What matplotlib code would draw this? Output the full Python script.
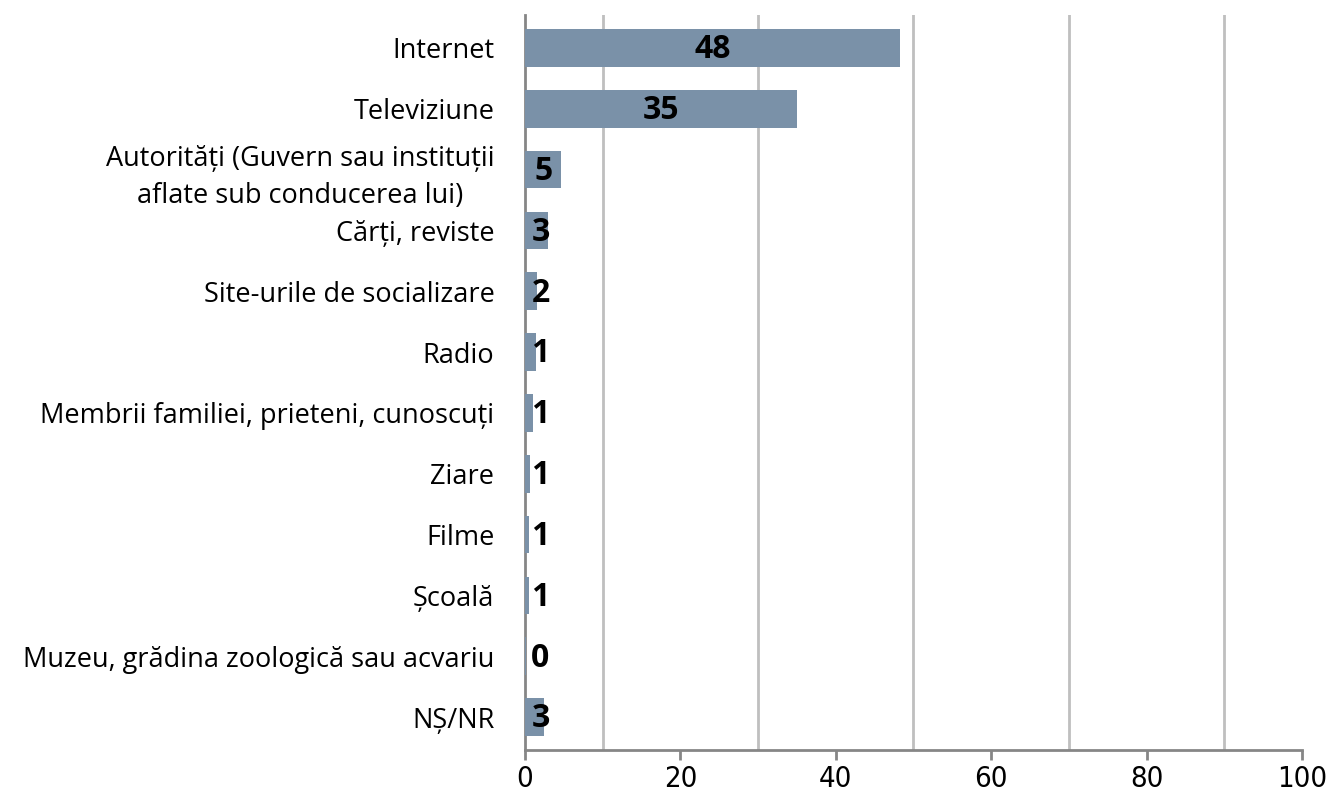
import matplotlib.pyplot as plt
import numpy as np

categories = [
    "Internet",
    "Televiziune",
    "Autorități (Guvern sau instituții\naflate sub conducerea lui)",
    "Cărți, reviste",
    "Site-urile de socializare",
    "Radio",
    "Membrii familiei, prieteni, cunoscuți",
    "Ziare",
    "Filme",
    "Școală",
    "Muzeu, grădina zoologică sau acvariu",
    "NȘ/NR",
]
values = [48.3, 35.0, 4.7, 3.0, 1.6, 1.4, 1.0, 0.6, 0.5, 0.5, 0.1, 2.4]
labels = ["48", "35", "5", "3", "2", "1", "1", "1", "1", "1", "0", "3"]

bar_color = "#7A91A8"
grid_color = "#BFBFBF"
axis_color = "#868686"

fig = plt.figure(figsize=(13.28, 7.96), dpi=100)
ax = fig.add_axes([0.3953, 0.0578, 0.5851, 0.9232])

y = np.arange(len(categories))
ax.barh(y, values, height=0.62, color=bar_color, zorder=3)

# value labels: centred in the bar, small ones pushed just right of the axis
for yi, v, lab in zip(y, values, labels):
    ax.text(max(v / 2, 2.0), yi + 0.03, lab, ha="center", va="center",
            fontsize=23, fontweight="bold", family="Open Sans", zorder=4)

ax.set_xlim(0, 100)
ax.set_ylim(len(categories) - 0.46, -0.54)

ax.set_xticks(np.arange(0, 101, 20))
ax.set_xticks(np.arange(10, 100, 20), minor=True)
ax.grid(False)
ax.xaxis.grid(True, which="minor", color=grid_color, linewidth=2, zorder=0)
ax.tick_params(axis="x", which="minor", length=0)
ax.tick_params(axis="x", which="major", direction="out", length=7, width=2,
               color=axis_color, labelsize=21, pad=4)
for t in ax.get_xticklabels():
    t.set_family("DejaVu Sans")
    t.set_fontstretch("condensed")

ax.set_yticks(y)
ax.set_yticklabels(categories, fontsize=19.5, family="Open Sans",
                   linespacing=1.4, multialignment="center")
ax.tick_params(axis="y", length=0, pad=22)

for side in ["top", "right"]:
    ax.spines[side].set_visible(False)
for side in ["left", "bottom"]:
    ax.spines[side].set_color(axis_color)
    ax.spines[side].set_linewidth(2)

fig.savefig("out.png", dpi=100)
